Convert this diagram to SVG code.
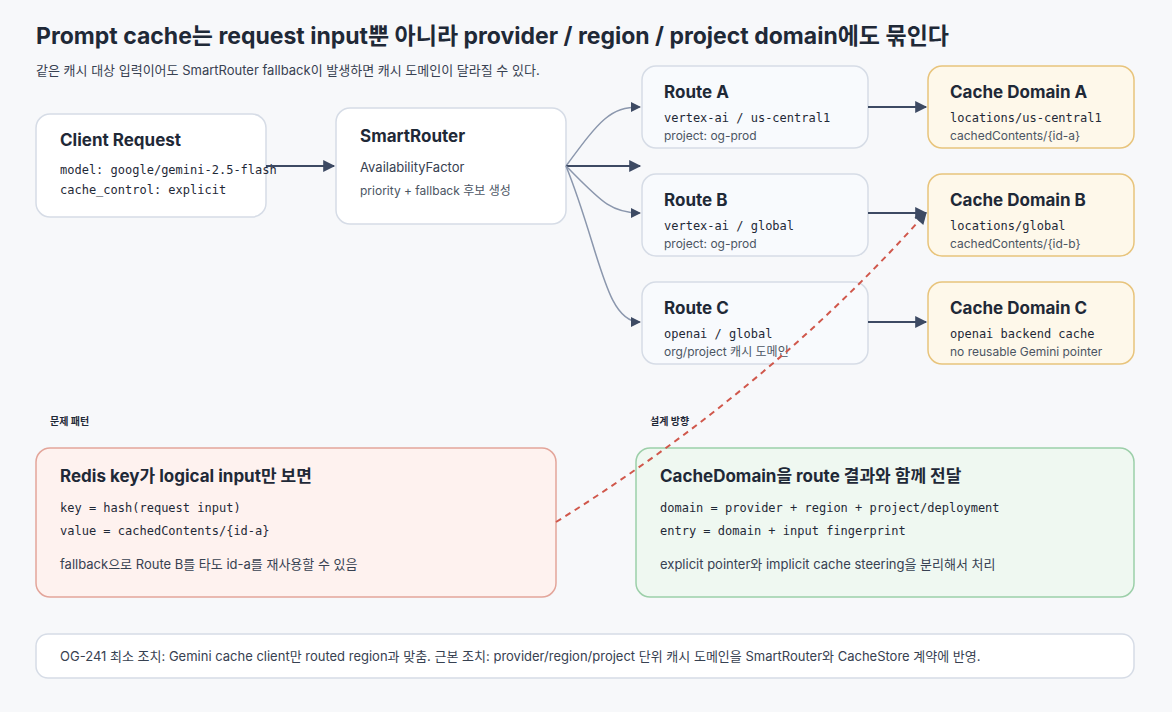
<svg xmlns="http://www.w3.org/2000/svg" width="1172" height="712" viewBox="0 0 1172 712">
<defs>
<marker id="ah" viewBox="0 0 10 10" refX="9" refY="5" markerWidth="14" markerHeight="12" markerUnits="userSpaceOnUse" orient="auto"><path d="M0,0 L10,5 L0,10 z" fill="#3d4a63"/></marker>
<marker id="ahg" viewBox="0 0 10 10" refX="9" refY="5" markerWidth="11" markerHeight="10" markerUnits="userSpaceOnUse" orient="auto"><path d="M0,0 L10,5 L0,10 z" fill="#3d4a63"/></marker>
<style>
.t{font-family:Inter,"Noto Sans","Noto Sans CJK KR",sans-serif;fill:#1f2937}
.h{font-size:17px;font-weight:700}
.s{font-size:13px;fill:#374151}
.xs{font-size:12px;fill:#4b5563}
.m{font-family:"DejaVu Sans Mono","Liberation Mono",monospace;font-size:12px;fill:#1f2937}
.box{fill:#fff;stroke:#d6dce6;stroke-width:1.5}
.rt{fill:#f8fafd;stroke:#d6dce6;stroke-width:1.5}
.cd{fill:#fef8ea;stroke:#e8c47c;stroke-width:1.5}
.e{fill:none;stroke:#3d4a63;stroke-width:2}
.g{fill:none;stroke:#8b97ad;stroke-width:1.5}
</style>
</defs>
<rect width="1172" height="712" fill="#f7f8fa"/>
<text class="t" x="36" y="44" font-size="23" font-weight="700">Prompt cache는 request input뿐 아니라 provider / region / project domain에도 묶인다</text>
<text class="t s" x="36" y="75">같은 캐시 대상 입력이어도 SmartRouter fallback이 발생하면 캐시 도메인이 달라질 수 있다.</text>

<g id="client"><rect class="box" x="36" y="114" width="230" height="103" rx="14"/>
<text class="t h" x="60" y="146">Client Request</text>
<text class="m" x="60" y="174">model: google/gemini-2.5-flash</text>
<text class="m" x="60" y="194">cache_control: explicit</text></g>

<g id="router"><rect class="box" x="336" y="108" width="230" height="116" rx="14"/>
<text class="t h" x="360" y="142">SmartRouter</text>
<text class="t s" x="360" y="172" font-size="14">AvailabilityFactor</text>
<text class="t xs" x="360" y="195">priority + fallback 후보 생성</text></g>

<g id="routeA"><rect class="rt" x="642" y="66" width="226" height="82" rx="14"/>
<text class="t h" x="664" y="98">Route A</text>
<text class="m" x="664" y="122">vertex-ai / us-central1</text>
<text class="t xs" x="664" y="140">project: og-prod</text></g>
<g id="routeB"><rect class="rt" x="642" y="174" width="226" height="82" rx="14"/>
<text class="t h" x="664" y="206">Route B</text>
<text class="m" x="664" y="230">vertex-ai / global</text>
<text class="t xs" x="664" y="248">project: og-prod</text></g>
<g id="routeC"><rect class="rt" x="642" y="282" width="226" height="82" rx="14"/>
<text class="t h" x="664" y="314">Route C</text>
<text class="m" x="664" y="338">openai / global</text>
<text class="t xs" x="664" y="356">org/project 캐시 도메인</text></g>

<g id="cacheA"><rect class="cd" x="928" y="66" width="206" height="82" rx="14"/>
<text class="t h" x="950" y="98">Cache Domain A</text>
<text class="m" x="950" y="122">locations/us-central1</text>
<text class="t xs" x="950" y="140">cachedContents/{id-a}</text></g>
<g id="cacheB"><rect class="cd" x="928" y="174" width="206" height="82" rx="14"/>
<text class="t h" x="950" y="206">Cache Domain B</text>
<text class="m" x="950" y="230">locations/global</text>
<text class="t xs" x="950" y="248">cachedContents/{id-b}</text></g>
<g id="cacheC"><rect class="cd" x="928" y="282" width="206" height="82" rx="14"/>
<text class="t h" x="950" y="314">Cache Domain C</text>
<text class="m" x="950" y="338">openai backend cache</text>
<text class="t xs" x="950" y="356">no reusable Gemini pointer</text></g>

<text class="t" x="50" y="425" font-size="10" font-weight="700" fill="#374151">문제 패턴</text>
<text class="t" x="650" y="425" font-size="10" font-weight="700" fill="#374151">설계 방향</text>

<g id="problem"><rect x="36" y="448" width="520" height="149" rx="14" fill="#fef2ef" stroke="#e3a59a" stroke-width="1.5"/>
<text class="t h" x="60" y="482">Redis key가 logical input만 보면</text>
<text class="m" x="60" y="512">key = hash(request input)</text>
<text class="m" x="60" y="535">value = cachedContents/{id-a}</text>
<text class="t s" x="60" y="569">fallback으로 Route B를 타도 id-a를 재사용할 수 있음</text></g>

<g id="design"><rect x="636" y="448" width="498" height="149" rx="14" fill="#eff8f1" stroke="#9ccfa9" stroke-width="1.5"/>
<text class="t h" x="660" y="482">CacheDomain을 route 결과와 함께 전달</text>
<text class="m" x="660" y="512">domain = provider + region + project/deployment</text>
<text class="m" x="660" y="535">entry = domain + input fingerprint</text>
<text class="t s" x="660" y="569">explicit pointer와 implicit cache steering을 분리해서 처리</text></g>

<g id="note"><rect class="box" x="36" y="634" width="1098" height="44" rx="12"/>
<text class="t s" x="60" y="661">OG-241 최소 조치: Gemini cache client만 routed region과 맞춤. 근본 조치: provider/region/project 단위 캐시 도메인을 SmartRouter와 CacheStore 계약에 반영.</text></g>

<g id="connectors">
<path class="e" d="M266,166 L334,166" marker-end="url(#ah)"/>
<path class="g" d="M566,166 C600,120 610,107 640,107" marker-end="url(#ahg)"/>
<path class="e" d="M566,166 L640,166" marker-end="url(#ah)"/>
<path class="g" d="M566,166 C600,200 610,213 640,213" marker-end="url(#ahg)"/>
<path class="g" d="M566,166 C600,250 605,322 640,322" marker-end="url(#ahg)"/>
<path class="e" d="M868,107 L926,107" marker-end="url(#ah)"/>
<path class="e" d="M868,213 L926,213" marker-end="url(#ah)"/>
<path class="e" d="M868,322 L926,322" marker-end="url(#ah)"/>
<path d="M556,522 C720,420 840,310 926,213" fill="none" stroke="#d0574b" stroke-width="2" stroke-dasharray="6,5" marker-end="url(#ah)"/>
</g>
</svg>
